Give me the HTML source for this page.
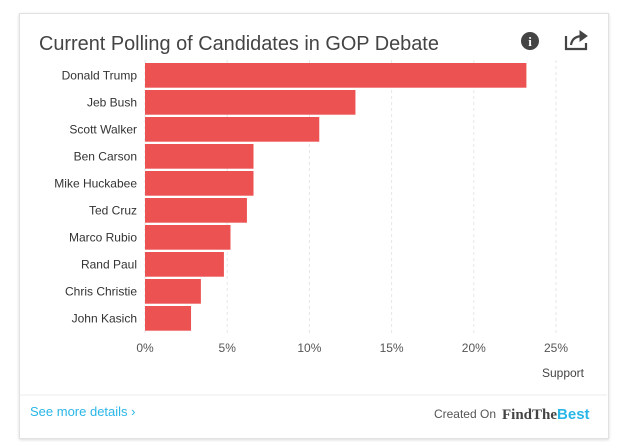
<!DOCTYPE html>
<html><head><meta charset="utf-8"><style>
body{margin:0;background:#fff;font-family:"Liberation Sans",sans-serif;}
#card{position:absolute;left:19px;top:13px;width:588px;height:424px;border:1px solid #e2e2e2;box-shadow:0 1px 3px rgba(0,0,0,.15);background:#fff;}
</style></head><body>
<div id="card"></div>
<svg width="624" height="442" style="position:absolute;left:0;top:0" id="svg">
<text x="39" y="50" font-size="19.9" fill="#444">Current Polling of Candidates in GOP Debate</text>
<g><circle cx="530" cy="41" r="9" fill="#444"/><text x="530" y="46" font-size="13" font-weight="bold" fill="#fff" text-anchor="middle" font-family="Liberation Serif">i</text></g>
<g fill="none" stroke="#444" stroke-width="2.2"><path d="M566 36 V49 H586 V43"/><path d="M571 45 C572 38 577 36 583 36" /><path d="M580 31 L587 36 L580 41 Z" fill="#444" stroke-width="1"/></g>
<g id="grid"></g><g id="bars"></g><g id="labels"></g><g id="ticks"></g>
<text x="584" y="377" font-size="12" fill="#444" text-anchor="end">Support</text>
<line x1="20" y1="395" x2="607" y2="395" stroke="#eee"/>
<text x="30" y="416" font-size="13" fill="#29b6e8">See more details ›</text>
<text x="496" y="418" font-size="12" fill="#555" text-anchor="end">Created On</text>
<text x="502" y="419" font-size="15" font-weight="bold" font-family="Liberation Serif"><tspan fill="#444">FindThe</tspan><tspan fill="#29b6e8" font-family="Liberation Sans">Best</tspan></text>
</svg>
<script>
const categories=["Donald Trump","Jeb Bush","Scott Walker","Ben Carson","Mike Huckabee","Ted Cruz","Marco Rubio","Rand Paul","Chris Christie","John Kasich"];
const values=[23.2,12.8,10.6,6.6,6.6,6.2,5.2,4.8,3.4,2.8];
const tickValues=[0,5,10,15,20,25];
const tickLabels=["0%","5%","10%","15%","20%","25%"];
const NS="http://www.w3.org/2000/svg";
const x=v=>145+v*16.44;
const y=i=>63+i*27;
function mk(t,a,p){const e=document.createElementNS(NS,t);for(const k in a)e.setAttribute(k,a[k]);document.getElementById(p).appendChild(e);return e;}
tickValues.forEach((v,i)=>{
 const g=mk("line",{x1:x(v),x2:x(v),y1:60,y2:333,stroke:"#e6e6e6","stroke-dasharray":"3,3"},"grid");
 
 
 const t=mk("text",{x:x(v),y:352,"font-size":12,fill:"#555","text-anchor":"middle"},"ticks");
 t.textContent=tickLabels[i];
 
 
});
categories.forEach((c,i)=>{
 const b=mk("rect",{x:x(0),y:y(i),width:x(values[i])-x(0),height:24.7,fill:"#ec5252"},"bars");
 
 
 const t=mk("text",{x:137,y:y(i)+16.5,"font-size":12,fill:"#333","text-anchor":"end"},"labels");
 t.textContent=c;
 
 
});
</script>
</body></html>
